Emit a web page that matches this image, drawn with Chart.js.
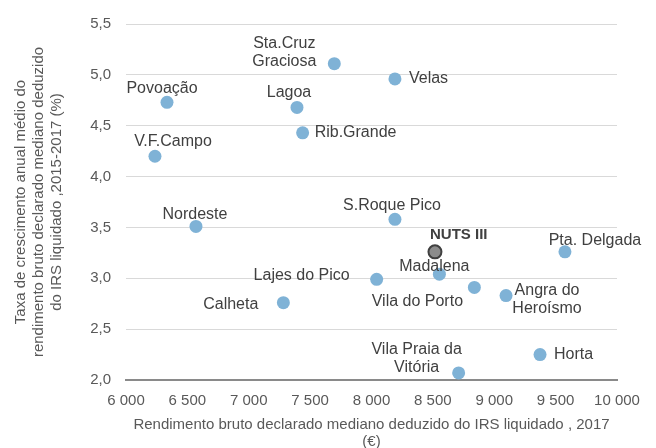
<!DOCTYPE html>
<html>
<head>
<meta charset="utf-8">
<script src="https://cdn.jsdelivr.net/npm/chart.js@4"></script>
<style>
  html, body { margin: 0; padding: 0; background: #fff; }
  #wrap { width: 656px; height: 448px; }
</style>
</head>
<body>
<div id="wrap"><canvas id="scatterChart" width="656" height="448"></canvas></div>
<script>
// municipalities (label lines)
const names = [
    ['Povoação'], ['V.F.Campo'], ['Nordeste'], ['Calheta'], ['Lagoa'], ['Rib.Grande'],
    ['Sta.Cruz', 'Graciosa'], ['Lajes do Pico'], ['Velas'], ['S.Roque Pico'], ['Madalena'],
    ['Vila Praia da', 'Vitória'], ['Vila do Porto'], ['Angra do', 'Heroísmo'], ['Horta'], ['Pta. Delgada']
];
// median gross declared income net of IRS, 2017 (€)
const income = [6334, 6236, 6570, 7282, 7393, 7439, 7697, 8042, 8191, 8191, 8553, 8710, 8838, 9096, 9373, 9576];
// average annual growth 2015-2017 (%)
const growth = [4.73, 4.20, 3.51, 2.76, 4.68, 4.43, 5.11, 2.99, 4.96, 3.58, 3.04, 2.07, 2.91, 2.83, 2.25, 3.26];

const nutsName = [['NUTS III']];
const nutsIncome = [8517];
const nutsGrowth = [3.26];

const xTickLabels = ['6 000', '6 500', '7 000', '7 500', '8 000', '8 500', '9 000', '9 500', '10 000'];
const yTickLabels = ['2,0', '2,5', '3,0', '3,5', '4,0', '4,5', '5,0', '5,5'];

// where each label sits relative to its point: [align, dx, dy]
const labelPlace = [
    ['center', -5, -14], ['center', 18, -15], ['center', -1, -12], ['right', -25, 2],
    ['center', -8, -15], ['left', 12, 0], ['center', -50, -20], ['right', -27, -4],
    ['left', 14, 0], ['center', -3, -14], ['center', -5, -8], ['center', -42, -23],
    ['center', -57, 14], ['center', 41, -5], ['left', 14, 0], ['center', 30, -11]
];
const nutsPlace = [['left', -5, -17]];

const textGrey = '#595959';

const pointLabels = {
    id: 'pointLabels',
    afterDatasetsDraw(chart) {
        const ctx = chart.ctx;
        chart.data.datasets.forEach((ds, di) => {
            const meta = chart.getDatasetMeta(di);
            meta.data.forEach((pt, i) => {
                const lines = ds.names[i];
                const [align, dx, dy] = ds.place[i];
                ctx.save();
                ctx.font = ds.labelFont;
                ctx.fillStyle = ds.labelColor;
                ctx.textAlign = align;
                ctx.textBaseline = 'middle';
                lines.forEach((line, li) => {
                    ctx.fillText(line, pt.x + dx, pt.y + dy + li * 18);
                });
                ctx.restore();
            });
        });
    }
};

const ctx = document.getElementById('scatterChart').getContext('2d');
new Chart(ctx, {
    type: 'scatter',
    data: {
        datasets: [
            {
                data: income.map((v, i) => ({ x: v, y: growth[i] })),
                names: names,
                place: labelPlace,
                labelFont: '16px "Liberation Sans", Arial, sans-serif',
                labelColor: '#404040',
                backgroundColor: '#7fb2d6',
                borderWidth: 0,
                pointRadius: 6.5,
                pointHoverRadius: 6.5
            },
            {
                data: nutsIncome.map((v, i) => ({ x: v, y: nutsGrowth[i] })),
                names: nutsName,
                place: nutsPlace,
                labelFont: 'bold 15px "Liberation Sans", Arial, sans-serif',
                labelColor: '#404040',
                backgroundColor: '#8c8c8c',
                borderColor: '#404040',
                borderWidth: 2,
                pointRadius: 6.5,
                pointHoverRadius: 6.5
            }
        ]
    },
    options: {
        responsive: false,
        animation: false,
        layout: { padding: { top: 21, right: 39, left: 0, bottom: 0 } },
        plugins: {
            legend: { display: false },
            tooltip: { enabled: false }
        },
        scales: {
            x: {
                type: 'linear',
                min: 6000,
                max: 10000,
                afterFit: scale => { scale.height = 68; },
                afterBuildTicks: scale => {
                    scale.ticks = xTickLabels.map((t, i) => ({ value: 6000 + i * 500 }));
                },
                ticks: {
                    callback: (v, i) => xTickLabels[i],
                    color: textGrey,
                    font: { family: '"Liberation Sans", Arial, sans-serif', size: 15 },
                    padding: 12,
                    maxRotation: 0,
                    autoSkip: false
                },
                grid: { display: false, drawTicks: false },
                border: { display: true, color: '#8a8a8a', width: 2 },
                title: {
                    display: true,
                    text: ['Rendimento bruto declarado mediano deduzido do IRS liquidado , 2017', '(€)'],
                    color: textGrey,
                    font: { family: '"Liberation Sans", Arial, sans-serif', size: 15, lineHeight: 1.15 },
                    padding: { top: 0, bottom: -2.5 }
                }
            },
            y: {
                type: 'linear',
                min: 2,
                max: 5.5,
                afterFit: scale => { scale.width = 126; },
                afterBuildTicks: scale => {
                    scale.ticks = yTickLabels.map((t, i) => ({ value: 2 + i * 0.5 }));
                },
                ticks: {
                    callback: (v, i) => yTickLabels[i],
                    color: textGrey,
                    font: { family: '"Liberation Sans", Arial, sans-serif', size: 15 },
                    padding: 15,
                    autoSkip: false
                },
                grid: { color: '#d9d9d9', lineWidth: 1, drawTicks: false },
                border: { display: false },
                title: {
                    display: true,
                    text: ['Taxa de crescimento anual médio do', 'rendimento bruto declarado mediano deduzido', 'do IRS liquidado ,2015-2017 (%)'],
                    color: textGrey,
                    font: { family: '"Liberation Sans", Arial, sans-serif', size: 15, lineHeight: 1.2 },
                    padding: { top: 12, bottom: 0 }
                }
            }
        }
    },
    plugins: [pointLabels]
});
</script>
</body>
</html>
